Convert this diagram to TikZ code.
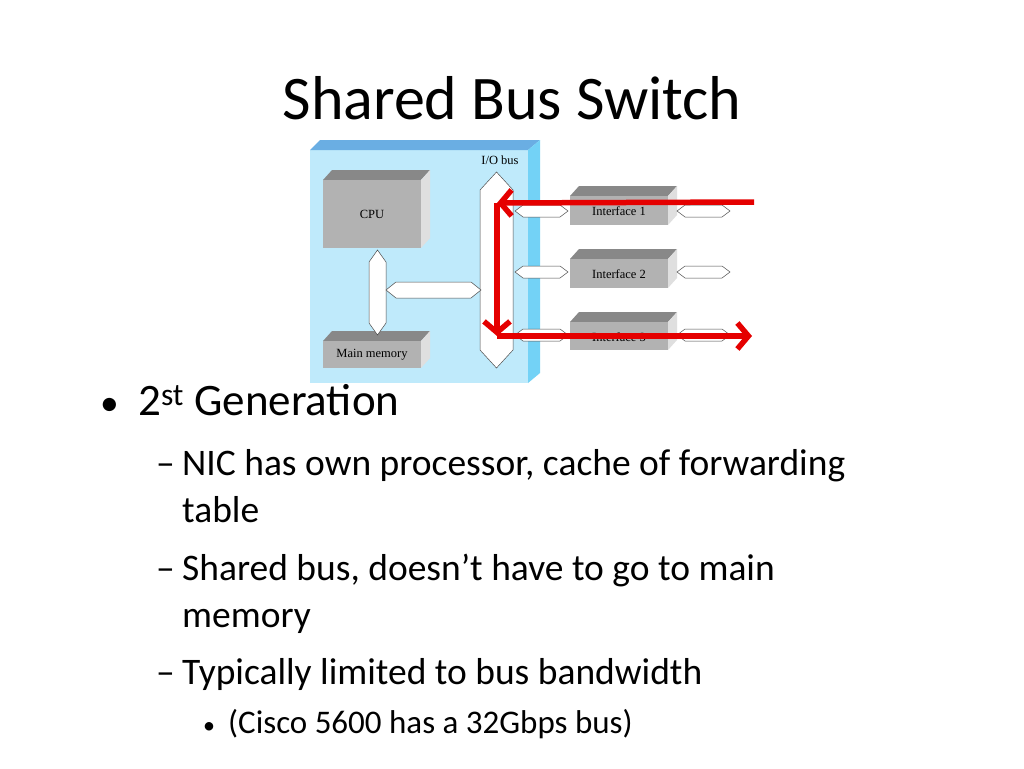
\documentclass[tikz,border=0pt]{standalone}
\usetikzlibrary{arrows.meta}
\usepackage{fontspec}
\setmainfont{Carlito}
\newfontfamily\serifx{Liberation Serif}
\begin{document}
\begin{tikzpicture}[x=1pt,y=-1pt,
  hexa/.style={fill=white,draw=black!70,line width=0.5pt},
  redar/.style={draw=red!90!black,line width=5.5pt,-{Straight Barb[length=11pt,width=26pt]}},
  lbl/.style={font=\serifx\fontsize{12.5}{13}\selectfont,inner sep=0},
  t1/.style={anchor=base west,font=\fontsize{45}{48}\selectfont,inner sep=0},
  t2/.style={anchor=base west,font=\fontsize{37.5}{40}\selectfont,inner sep=0},
  t3/.style={anchor=base west,font=\fontsize{33}{36}\selectfont,inner sep=0}]
\useasboundingbox (0,0) rectangle (1024,768);
\fill[white] (0,0) rectangle (1024,768);
\node[font=\fontsize{62}{66}\selectfont] (title) at (512,98) {Shared Bus Switch};
% panel
\fill[cyan!25] (310,150) rectangle (528,383);
\fill[cyan!70!blue!60] (310,150) -- (320,140) -- (540,140) -- (528,150) -- cycle;
\fill[cyan!55] (528,150) -- (540,140) -- (540,373) -- (528,383) -- cycle;
% 3D boxes
\newcommand{\gbox}[5]{% x1 y1 x2 y2 name
  \fill[gray!45!black!60] (#1,#2) -- (#1+9,#2-10) -- (#3+9,#2-10) -- (#3,#2) -- cycle;
  \fill[gray!25] (#3,#2) -- (#3+9,#2-10) -- (#3+9,#4-10) -- (#3,#4) -- cycle;
  \fill[gray!60] (#1,#2) rectangle (#3,#4);
  \coordinate (#5) at ({(#1+#3)/2},{(#2+#4)/2});}
\gbox{323}{180}{421}{248}{cpu}
\gbox{323}{341}{421}{368}{mem}
\gbox{570}{196}{668}{225}{if1}
\gbox{570}{259}{668}{288}{if2}
\gbox{570}{322}{668}{350}{if3}
\node[lbl] (cpul) at (372,214) {CPU};
\node[lbl] (meml) at (372,355) {Main memory};
\node[lbl] (if1l) at (619,211) {Interface 1};
\node[lbl] (if2l) at (619,274) {Interface 2};
\node[lbl] (if3l) at (619,337) {Interface 3};
\node[lbl] (iob) at (500,160) {I/O bus};
% buses
\draw[hexa] (480,190) -- (496.5,172) -- (513,190) -- (513,350) -- (496.5,368) -- (480,350) -- cycle;
\draw[hexa] (369,262) -- (377.5,250) -- (386,262) -- (386,323) -- (377.5,335) -- (369,323) -- cycle;
\draw[hexa] (386,290) -- (396,282) -- (471,282) -- (481,290) -- (471,298) -- (396,298) -- cycle;
\foreach \yy in {211,272,335}{
  \draw[hexa] (515,\yy) -- (523,\yy-6) -- (560,\yy-6) -- (568,\yy) -- (560,\yy+6) -- (523,\yy+6) -- cycle;
  \draw[hexa] (677,\yy) -- (685,\yy-6) -- (722,\yy-6) -- (730,\yy) -- (722,\yy+6) -- (685,\yy+6) -- cycle;}
% red path
\coordinate (ra) at (754,202);
\coordinate (rb) at (497,203);
\coordinate (rc) at (497,336);
\coordinate (rd) at (752,336);
\draw[redar] (ra) -- (rb);
\draw[redar] (rb) -- (rc);
\draw[redar] (rc) -- (rd);
% text
\node[t2] (b0) at (100,415) {•};
\node[t1] (b1) at (138,415) {2\textsuperscript{st} Generation};
\node[t2] (d1) at (156,475) {–};
\node[t2] (s1) at (182,475) {NIC has own processor, cache of forwarding};
\node[t2] (s1b) at (182,522) {table};
\node[t2] (d2) at (156,580) {–};
\node[t2] (s2) at (182,580) {Shared bus, doesn’t have to go to main};
\node[t2] (s2b) at (182,627) {memory};
\node[t2] (d3) at (156,684) {–};
\node[t2] (s3) at (182,684) {Typically limited to bus bandwidth};
\node[t3] (b4) at (203,733) {\fontsize{24}{26}\selectfont •};
\node[t3] (s4) at (228,733) {(Cisco 5600 has a 32Gbps bus)};
\end{tikzpicture}
\end{document}
